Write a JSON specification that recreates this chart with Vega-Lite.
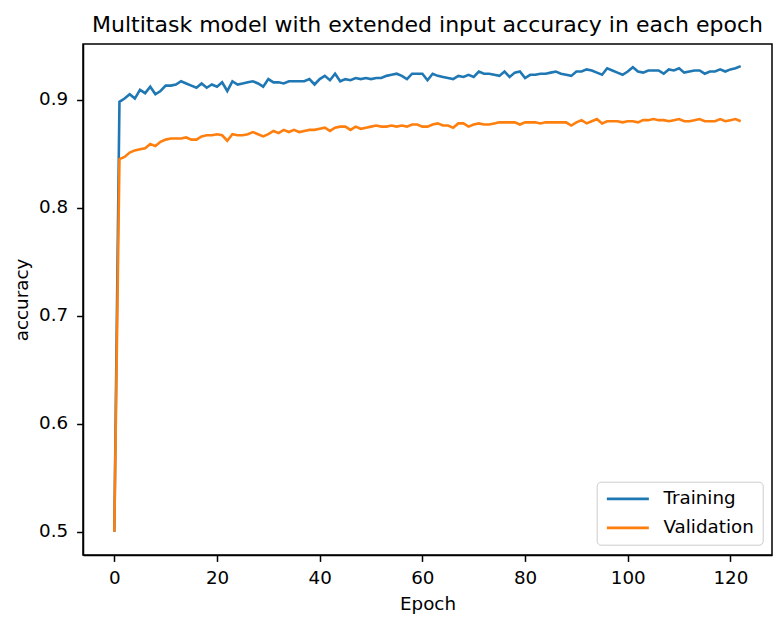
{
  "$schema": "https://vega.github.io/schema/vega-lite/v6.json",
  "autosize": {"type": "none"},
  "padding": {"left": 83, "top": 44, "right": 10, "bottom": 62},
  "width": 689,
  "height": 511,
  "background": "white",
  "title": {
    "text": "Multitask model with extended input accuracy in each epoch",
    "font": "DejaVu Sans",
    "fontSize": 22,
    "fontWeight": "normal",
    "color": "black",
    "anchor": "middle",
    "baseline": "alphabetic",
    "offset": -10
  },
  "data": {
    "values": [
      {"epoch": 0, "Training": 0.500, "Validation": 0.500},
      {"epoch": 1, "Training": 0.898, "Validation": 0.845},
      {"epoch": 2, "Training": 0.901, "Validation": 0.847},
      {"epoch": 3, "Training": 0.905, "Validation": 0.851},
      {"epoch": 4, "Training": 0.901, "Validation": 0.853},
      {"epoch": 5, "Training": 0.909, "Validation": 0.854},
      {"epoch": 6, "Training": 0.906, "Validation": 0.855},
      {"epoch": 7, "Training": 0.912, "Validation": 0.859},
      {"epoch": 8, "Training": 0.905, "Validation": 0.857},
      {"epoch": 9, "Training": 0.908, "Validation": 0.861},
      {"epoch": 10, "Training": 0.913, "Validation": 0.863},
      {"epoch": 11, "Training": 0.913, "Validation": 0.864},
      {"epoch": 12, "Training": 0.914, "Validation": 0.864},
      {"epoch": 13, "Training": 0.917, "Validation": 0.864},
      {"epoch": 14, "Training": 0.915, "Validation": 0.865},
      {"epoch": 15, "Training": 0.913, "Validation": 0.863},
      {"epoch": 16, "Training": 0.911, "Validation": 0.863},
      {"epoch": 17, "Training": 0.915, "Validation": 0.866},
      {"epoch": 18, "Training": 0.911, "Validation": 0.867},
      {"epoch": 19, "Training": 0.914, "Validation": 0.867},
      {"epoch": 20, "Training": 0.912, "Validation": 0.868},
      {"epoch": 21, "Training": 0.916, "Validation": 0.867},
      {"epoch": 22, "Training": 0.908, "Validation": 0.862},
      {"epoch": 23, "Training": 0.917, "Validation": 0.868},
      {"epoch": 24, "Training": 0.914, "Validation": 0.867},
      {"epoch": 25, "Training": 0.915, "Validation": 0.867},
      {"epoch": 26, "Training": 0.916, "Validation": 0.868},
      {"epoch": 27, "Training": 0.917, "Validation": 0.870},
      {"epoch": 28, "Training": 0.915, "Validation": 0.868},
      {"epoch": 29, "Training": 0.912, "Validation": 0.866},
      {"epoch": 30, "Training": 0.919, "Validation": 0.868},
      {"epoch": 31, "Training": 0.916, "Validation": 0.871},
      {"epoch": 32, "Training": 0.916, "Validation": 0.869},
      {"epoch": 33, "Training": 0.915, "Validation": 0.872},
      {"epoch": 34, "Training": 0.917, "Validation": 0.870},
      {"epoch": 35, "Training": 0.917, "Validation": 0.872},
      {"epoch": 36, "Training": 0.917, "Validation": 0.870},
      {"epoch": 37, "Training": 0.917, "Validation": 0.871},
      {"epoch": 38, "Training": 0.919, "Validation": 0.872},
      {"epoch": 39, "Training": 0.914, "Validation": 0.872},
      {"epoch": 40, "Training": 0.919, "Validation": 0.873},
      {"epoch": 41, "Training": 0.922, "Validation": 0.874},
      {"epoch": 42, "Training": 0.918, "Validation": 0.871},
      {"epoch": 43, "Training": 0.924, "Validation": 0.874},
      {"epoch": 44, "Training": 0.917, "Validation": 0.875},
      {"epoch": 45, "Training": 0.919, "Validation": 0.875},
      {"epoch": 46, "Training": 0.918, "Validation": 0.872},
      {"epoch": 47, "Training": 0.920, "Validation": 0.875},
      {"epoch": 48, "Training": 0.919, "Validation": 0.873},
      {"epoch": 49, "Training": 0.920, "Validation": 0.874},
      {"epoch": 50, "Training": 0.919, "Validation": 0.875},
      {"epoch": 51, "Training": 0.920, "Validation": 0.876},
      {"epoch": 52, "Training": 0.920, "Validation": 0.875},
      {"epoch": 53, "Training": 0.922, "Validation": 0.875},
      {"epoch": 54, "Training": 0.923, "Validation": 0.876},
      {"epoch": 55, "Training": 0.924, "Validation": 0.875},
      {"epoch": 56, "Training": 0.922, "Validation": 0.876},
      {"epoch": 57, "Training": 0.919, "Validation": 0.875},
      {"epoch": 58, "Training": 0.924, "Validation": 0.877},
      {"epoch": 59, "Training": 0.924, "Validation": 0.877},
      {"epoch": 60, "Training": 0.924, "Validation": 0.875},
      {"epoch": 61, "Training": 0.918, "Validation": 0.875},
      {"epoch": 62, "Training": 0.924, "Validation": 0.877},
      {"epoch": 63, "Training": 0.922, "Validation": 0.878},
      {"epoch": 64, "Training": 0.921, "Validation": 0.876},
      {"epoch": 65, "Training": 0.920, "Validation": 0.876},
      {"epoch": 66, "Training": 0.919, "Validation": 0.874},
      {"epoch": 67, "Training": 0.922, "Validation": 0.878},
      {"epoch": 68, "Training": 0.921, "Validation": 0.878},
      {"epoch": 69, "Training": 0.923, "Validation": 0.875},
      {"epoch": 70, "Training": 0.921, "Validation": 0.877},
      {"epoch": 71, "Training": 0.926, "Validation": 0.878},
      {"epoch": 72, "Training": 0.924, "Validation": 0.877},
      {"epoch": 73, "Training": 0.924, "Validation": 0.877},
      {"epoch": 74, "Training": 0.923, "Validation": 0.878},
      {"epoch": 75, "Training": 0.922, "Validation": 0.879},
      {"epoch": 76, "Training": 0.926, "Validation": 0.879},
      {"epoch": 77, "Training": 0.921, "Validation": 0.879},
      {"epoch": 78, "Training": 0.925, "Validation": 0.879},
      {"epoch": 79, "Training": 0.926, "Validation": 0.877},
      {"epoch": 80, "Training": 0.920, "Validation": 0.879},
      {"epoch": 81, "Training": 0.923, "Validation": 0.879},
      {"epoch": 82, "Training": 0.923, "Validation": 0.879},
      {"epoch": 83, "Training": 0.924, "Validation": 0.878},
      {"epoch": 84, "Training": 0.924, "Validation": 0.879},
      {"epoch": 85, "Training": 0.925, "Validation": 0.879},
      {"epoch": 86, "Training": 0.926, "Validation": 0.879},
      {"epoch": 87, "Training": 0.924, "Validation": 0.879},
      {"epoch": 88, "Training": 0.923, "Validation": 0.879},
      {"epoch": 89, "Training": 0.922, "Validation": 0.876},
      {"epoch": 90, "Training": 0.926, "Validation": 0.879},
      {"epoch": 91, "Training": 0.926, "Validation": 0.881},
      {"epoch": 92, "Training": 0.928, "Validation": 0.878},
      {"epoch": 93, "Training": 0.927, "Validation": 0.880},
      {"epoch": 94, "Training": 0.925, "Validation": 0.882},
      {"epoch": 95, "Training": 0.923, "Validation": 0.878},
      {"epoch": 96, "Training": 0.929, "Validation": 0.880},
      {"epoch": 97, "Training": 0.927, "Validation": 0.880},
      {"epoch": 98, "Training": 0.925, "Validation": 0.880},
      {"epoch": 99, "Training": 0.923, "Validation": 0.879},
      {"epoch": 100, "Training": 0.926, "Validation": 0.880},
      {"epoch": 101, "Training": 0.930, "Validation": 0.880},
      {"epoch": 102, "Training": 0.926, "Validation": 0.879},
      {"epoch": 103, "Training": 0.925, "Validation": 0.881},
      {"epoch": 104, "Training": 0.927, "Validation": 0.881},
      {"epoch": 105, "Training": 0.927, "Validation": 0.882},
      {"epoch": 106, "Training": 0.927, "Validation": 0.881},
      {"epoch": 107, "Training": 0.924, "Validation": 0.881},
      {"epoch": 108, "Training": 0.928, "Validation": 0.880},
      {"epoch": 109, "Training": 0.927, "Validation": 0.881},
      {"epoch": 110, "Training": 0.929, "Validation": 0.882},
      {"epoch": 111, "Training": 0.925, "Validation": 0.880},
      {"epoch": 112, "Training": 0.926, "Validation": 0.880},
      {"epoch": 113, "Training": 0.927, "Validation": 0.881},
      {"epoch": 114, "Training": 0.927, "Validation": 0.882},
      {"epoch": 115, "Training": 0.924, "Validation": 0.880},
      {"epoch": 116, "Training": 0.926, "Validation": 0.880},
      {"epoch": 117, "Training": 0.926, "Validation": 0.880},
      {"epoch": 118, "Training": 0.928, "Validation": 0.882},
      {"epoch": 119, "Training": 0.926, "Validation": 0.880},
      {"epoch": 120, "Training": 0.928, "Validation": 0.881},
      {"epoch": 121, "Training": 0.929, "Validation": 0.882},
      {"epoch": 122, "Training": 0.931, "Validation": 0.880}
    ]
  },
  "transform": [{"fold": ["Training", "Validation"], "as": ["series", "accuracy"]}],
  "mark": {"type": "line", "strokeWidth": 2.6, "interpolate": "linear"},
  "encoding": {
    "x": {
      "field": "epoch",
      "type": "quantitative",
      "scale": {"domain": [-6.1, 128.1], "nice": false, "zero": false},
      "axis": {
        "title": "Epoch",
        "values": [0, 20, 40, 60, 80, 100, 120],
        "format": "d",
        "labelBaseline": "top",
        "labelPadding": 8,
        "titleBaseline": "alphabetic",
        "titleY": 54
      }
    },
    "y": {
      "field": "accuracy",
      "type": "quantitative",
      "scale": {"domain": [0.4785, 0.9515], "nice": false, "zero": false},
      "axis": {
        "title": "accuracy",
        "values": [0.5, 0.6, 0.7, 0.8, 0.9],
        "format": ".1f",
        "labelBaseline": "middle",
        "labelPadding": 9,
        "titleAngle": -90,
        "titleBaseline": "alphabetic",
        "titleAlign": "center",
        "titleX": -56,
        "titleY": 255.5
      }
    },
    "color": {
      "field": "series",
      "type": "nominal",
      "scale": {"domain": ["Training", "Validation"], "range": ["#1f77b4", "#ff7f0e"]},
      "legend": {
        "title": null,
        "orient": "none",
        "legendX": 513.7,
        "legendY": 437.7,
        "padding": 8,
        "strokeColor": "#cccccc",
        "fillColor": "rgba(255,255,255,0.8)",
        "cornerRadius": 4,
        "symbolType": "M-1,0H5",
        "symbolSize": 196,
        "symbolStrokeWidth": 2.6,
        "symbolFillColor": "transparent",
        "labelOffset": 40.5,
        "rowPadding": 10,
        "labelFont": "DejaVu Sans",
        "labelFontSize": 18.3,
        "labelColor": "black"
      }
    }
  },
  "config": {
    "font": "DejaVu Sans",
    "view": {"stroke": "black", "strokeWidth": 1.5},
    "axis": {
      "grid": false,
      "domainColor": "black",
      "domainWidth": 1.5,
      "tickColor": "black",
      "tickWidth": 1.5,
      "tickSize": 6.4,
      "labelFont": "DejaVu Sans",
      "labelFontSize": 18.3,
      "labelColor": "black",
      "titleFont": "DejaVu Sans",
      "titleFontSize": 18.3,
      "titleFontWeight": "normal",
      "titleColor": "black"
    }
  }
}
